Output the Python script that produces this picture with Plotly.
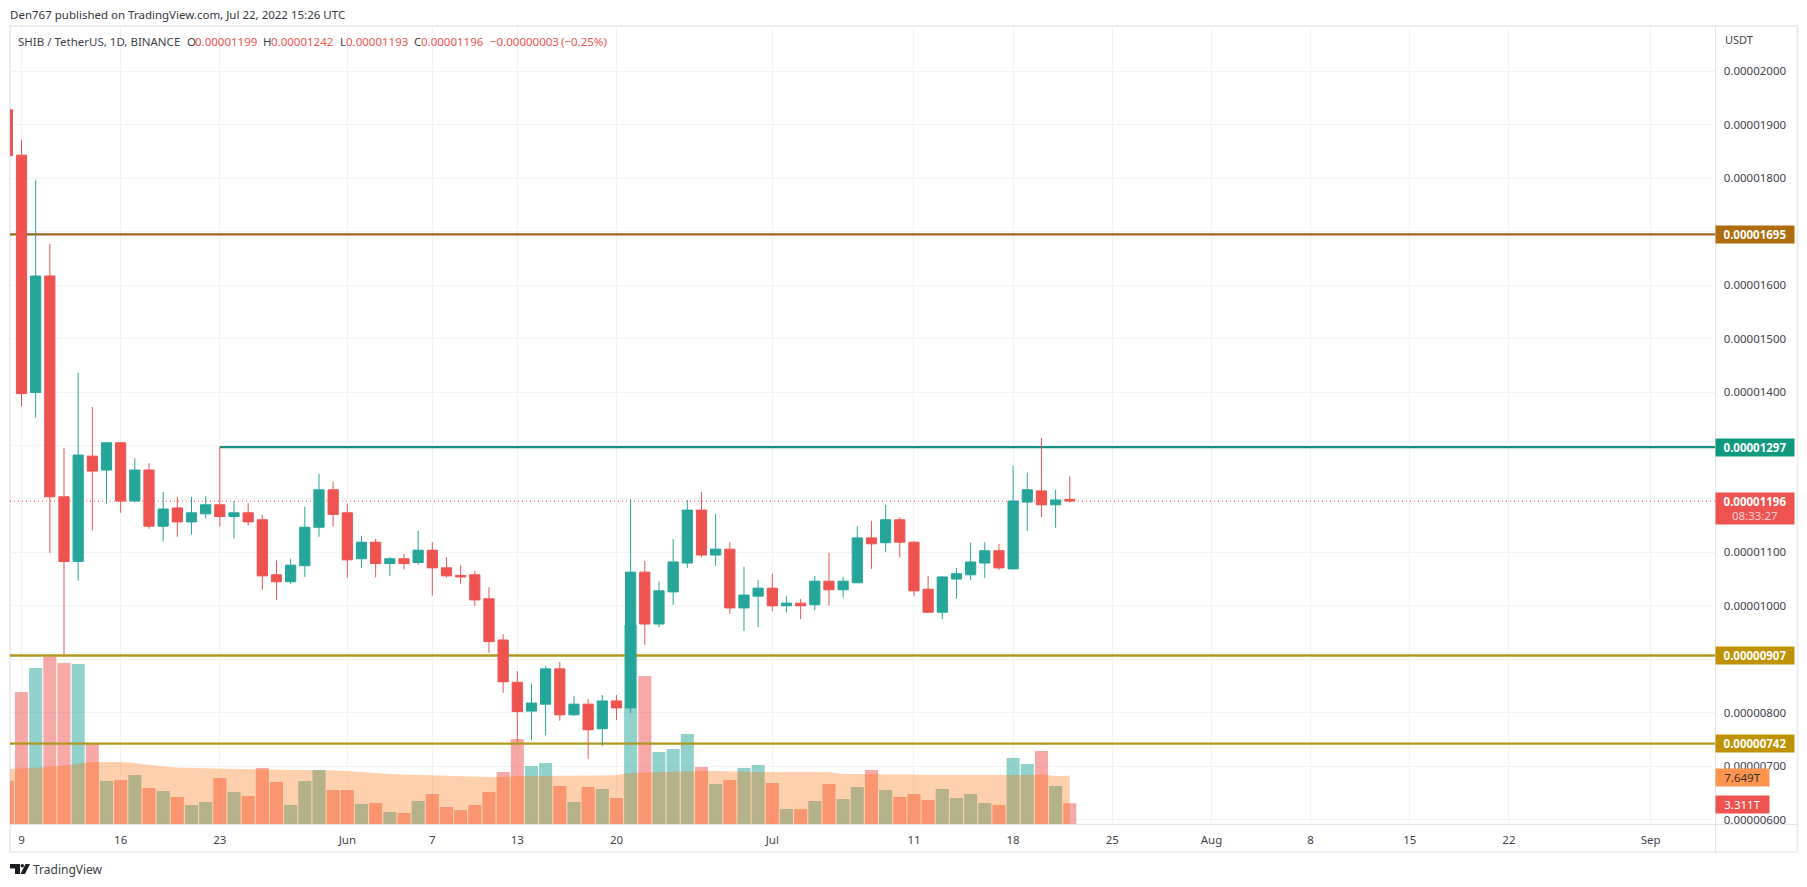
import pandas as pd
import plotly.graph_objects as go

W, H = 1807, 887
FONT = "Noto Sans"

# ---------- data (prices in units of 0.00000001, volume in trillions) ----------
dates = pd.date_range("2022-05-08", "2022-07-22", freq="D")

open_e8 = [1928, 1843, 1399, 1617, 1204, 1083, 1280, 1254, 1305, 1196, 1254, 1149, 1183, 1157, 1172, 1189, 1167, 1174, 1161, 1058, 1045, 1075, 1147, 1217,
           1174, 1088, 1119, 1079, 1088, 1081, 1104, 1071, 1057, 1058, 1013, 936, 857, 803, 816, 882, 796, 816, 770, 822, 809, 1063, 966, 1026, 1080, 1179, 1095, 1106, 996, 1018,
           1033, 1000, 1005, 1002, 1046, 1030, 1043, 1127, 1118, 1161, 1119, 1031, 988, 1050, 1058, 1080, 1103, 1069, 1194, 1215, 1189, 1199]
high_e8 = [1928, 1872, 1797, 1677, 1295, 1436, 1372, 1305, 1305, 1276, 1267, 1213, 1204, 1204, 1205, 1298, 1196, 1192, 1170, 1085, 1088, 1185, 1247, 1232,
           1191, 1131, 1125, 1091, 1097, 1140, 1119, 1091, 1076, 1065, 1035, 947, 878, 854, 887, 895, 831, 826, 833, 833, 1200, 1084, 1045, 1125, 1198, 1213, 1172, 1119, 1073, 1048,
           1060, 1018, 1013, 1056, 1099, 1054, 1149, 1159, 1189, 1166, 1121, 1056, 1056, 1071, 1118, 1119, 1116, 1262, 1249, 1314, 1217, 1242]
low_e8 = [1842, 1373, 1352, 1099, 908, 1047, 1141, 1191, 1174, 1194, 1144, 1120, 1129, 1133, 1163, 1148, 1126, 1150, 1030, 1011, 1041, 1054, 1129, 1148,
          1053, 1071, 1053, 1056, 1068, 1077, 1019, 1053, 1041, 1000, 912, 837, 745, 749, 758, 785, 794, 713, 738, 786, 799, 927, 960, 1002, 1071, 1091, 1075, 985, 953, 960,
          990, 987, 975, 992, 1000, 1015, 1043, 1069, 1101, 1091, 1018, 987, 975, 1013, 1048, 1052, 1067, 1069, 1140, 1166, 1146, 1193]
close_e8 = [1842, 1397, 1617, 1204, 1083, 1282, 1252, 1305, 1196, 1254, 1149, 1181, 1157, 1174, 1189, 1167, 1174, 1157, 1056, 1045, 1076, 1147, 1217, 1171,
            1086, 1119, 1079, 1088, 1079, 1104, 1071, 1056, 1054, 1011, 933, 858, 802, 818, 882, 796, 816, 768, 822, 809, 1063, 966, 1028, 1082, 1179, 1095, 1106, 996, 1020, 1033,
            1000, 1005, 1000, 1046, 1030, 1046, 1127, 1116, 1161, 1119, 1028, 988, 1054, 1060, 1082, 1103, 1071, 1196, 1217, 1189, 1198, 1196]

volume_t = [6.88, 20.87, 24.65, 26.47, 25.44, 25.28, 12.67, 6.83, 6.99, 7.78, 5.73, 5.25, 4.31, 3.04, 3.52, 7.30, 5.09, 4.46, 8.88, 6.67, 3.04, 6.83, 8.56, 5.41,
            5.41, 3.20, 3.36, 1.94, 1.78, 3.68, 4.78, 2.73, 2.26, 3.04, 5.09, 8.25, 13.45, 9.20, 9.67, 6.04, 3.52, 5.88, 5.57, 4.15, 31.44, 23.39, 11.40, 11.88, 14.24, 9.04, 6.36, 6.99, 8.88, 9.35,
            6.51, 2.41, 2.41, 3.68, 6.36, 3.99, 5.88, 8.56, 5.41, 4.31, 4.78, 3.83, 5.57, 4.15, 4.78, 3.36, 3.04, 10.46, 9.51, 11.56, 6.04, 3.311]
volume_ma_t = [8.72, 8.80, 8.88, 9.04, 9.27, 9.51, 9.83, 9.83, 9.83, 9.67, 9.35, 9.12, 8.96, 8.88, 8.80, 8.72, 8.72, 8.72, 8.64, 8.56, 8.56, 8.56, 8.56, 8.49,
               8.41, 8.25, 8.01, 7.93, 7.85, 7.78, 7.70, 7.62, 7.54, 7.46, 7.46, 7.46, 7.62, 7.62, 7.62, 7.62, 7.62, 7.62, 7.70, 7.78, 8.09, 8.17, 8.25, 8.25, 8.33, 8.41, 8.41, 8.33, 8.33, 8.25,
               8.25, 8.25, 8.25, 8.25, 8.25, 7.93, 7.93, 7.93, 7.93, 7.93, 7.85, 7.78, 7.78, 7.78, 7.78, 7.70, 7.70, 7.78, 7.78, 7.85, 7.62, 7.649]

level_1695 = 0.00001695
level_1297 = 0.00001297
level_907 = 0.00000907
level_742 = 0.00000742
last_price = 0.00001196
level_1297_start = "2022-05-23"

price_ticks = [i * 1e-8 for i in range(600, 2001, 100)]
date_ticks = ["2022-05-09", "2022-05-16", "2022-05-23", "2022-06-01", "2022-06-07", "2022-06-13", "2022-06-20", "2022-07-01",
              "2022-07-11", "2022-07-18", "2022-07-25", "2022-08-01", "2022-08-08", "2022-08-15", "2022-08-22", "2022-09-01"]
date_tick_text = ["9", "16", "23", "Jun", "7", "13", "20", "Jul", "11", "18", "25", "Aug", "8", "15", "22", "Sep"]

# ---------- colours ----------
RED, GREEN = "#EF5350", "#26A69A"
RED_A, GREEN_A = "rgba(239,83,80,0.5)", "rgba(38,166,154,0.5)"
TEXT = "#3F424C"
GRID = "#F2F3F6"
FRAME = "#EDEEF0"
SEP = "#E2E4EA"

# ---------- geometry helpers ----------
def px(x):
    return x / W

def py(y):
    return 1 - y / H

L, R, T, B = 10, 1715.5, 27, 824.3
PX_PER_DAY = 14.166
X0_PX = 21.5
t0 = pd.Timestamp("2022-05-09")
x_left = t0 + pd.Timedelta(days=(L - X0_PX) / PX_PER_DAY)
x_right = t0 + pd.Timedelta(days=(R - X0_PX) / PX_PER_DAY)
x_range = [x_left.isoformat(), x_right.isoformat()]
PRICE_PX = 53.45e6  # pixels per unit price
p_top = 0.00002 + (71.3 - T) / PRICE_PX
p_bot = 0.00002 + (71.3 - B) / PRICE_PX
price_range = [p_bot, p_top]
vol_range = [0, (B - T) / 6.34]

opens = [v * 1e-8 for v in open_e8]
highs = [v * 1e-8 for v in high_e8]
lows = [v * 1e-8 for v in low_e8]
closes = [v * 1e-8 for v in close_e8]
vol_colors = [GREEN_A if c >= o else RED_A for o, c in zip(open_e8, close_e8)]

fig = go.Figure()

# volume + average (base subplot)
fig.add_trace(go.Bar(x=dates, y=volume_t, marker=dict(color=vol_colors, line_width=0), yaxis="y", hoverinfo="skip"))
fig.add_trace(go.Scatter(x=dates, y=volume_ma_t, mode="lines", fill="tozeroy", line=dict(width=0, color="rgba(255,109,0,0)"),
                         fillcolor="rgba(255,109,0,0.32)", yaxis="y", hoverinfo="skip"))

# horizontal levels under the candles
def level(xs, value, color, width=2.3, dash=None):
    fig.add_trace(go.Scatter(x=xs, y=[value] * len(xs), mode="lines", yaxis="y2", hoverinfo="skip",
                             line=dict(color=color, width=width, dash=dash)))

full = x_range
level(full, level_1695, "#9A6320")
level([level_1297_start, x_range[1]], level_1297, "#12927C")
level(full, level_907, "#B0981E")
level(full, level_742, "#B0981E")
level(full, last_price, RED, 1, "1px,3px")

# candles
fig.add_trace(go.Candlestick(x=dates, open=opens, high=highs, low=lows, close=closes, yaxis="y3", whiskerwidth=0,
                             increasing=dict(line=dict(color=GREEN, width=1), fillcolor=GREEN),
                             decreasing=dict(line=dict(color=RED, width=1), fillcolor=RED), hoverinfo="skip"))

ann = []
def text(x, y, s, color=TEXT, size=11.5, anchor="left"):
    ann.append(dict(xref="paper", yref="paper", x=px(x), y=py(y), text=s, showarrow=False, xanchor=anchor, yanchor="middle",
                    font=dict(family=FONT, size=size, color=color), xshift=0, yshift=0, borderpad=0, borderwidth=0))

text(10, 15, "Den767 published on TradingView.com, Jul 22, 2022 15:26 UTC", "#333740", 11.5)
y_leg = 41.5
text(18, y_leg, "SHIB / TetherUS, 1D, BINANCE", TEXT, 11.5)
for xl, lab, xv, val in [(186.8, "O", 195, "0.00001199"), (263, "H", 271, "0.00001242"), (339.5, "L", 345.6, "0.00001193"), (413.7, "C", 421, "0.00001196")]:
    text(xl, y_leg, lab, TEXT, 11.5)
    text(xv, y_leg, val, RED, 11.5)
text(489.5, y_leg, "\u22120.00000003", RED, 11.5)
text(560.7, y_leg, "(\u22120.25%)", RED, 11.5)
text(1725, 39.5, "USDT", TEXT, 11)
text(33, 869, "TradingView", "#3A3D46", 12)

def tag(yref, value, s, bg, color="white", width=78, height=17, yshift=0):
    ann.append(dict(xref="paper", yref=yref, x=px(1715), y=value, text=s, showarrow=False, xanchor="left", yanchor="middle",
                    width=width, height=height, align="center", valign="middle", bgcolor=bg, yshift=yshift, borderpad=0,
                    font=dict(family=FONT, size=11.5, color=color)))

tag("y2", level_1695, "<b>0.00001695</b>", "#AF6C0C")
tag("y2", level_1297, "<b>0.00001297</b>", "#0F9A80")
tag("y2", level_907, "<b>0.00000907</b>", "#C09200")
tag("y2", level_742, "<b>0.00000742</b>", "#C09200")
tag("y2", last_price, "<b>0.00001196</b><br><span style='color:#FBD0CF'>08:33:27</span>", RED, height=31, yshift=-7.5)
tag("y", volume_ma_t[-1], "7.649T", "#FF944E", "#35302C", width=53, yshift=-2)
tag("y", volume_t[-1], "3.311T", RED, width=53, yshift=-1)

def rect(x0, y0, x1, y1, **kw):
    return dict(type="rect", xref="paper", yref="paper", x0=px(x0), y0=py(y0), x1=px(x1), y1=py(y1), **kw)

def hline(x0, x1, y, c, w=1):
    return dict(type="line", xref="paper", yref="paper", x0=px(x0), x1=px(x1), y0=py(y), y1=py(y), line=dict(color=c, width=w))

def vline(x, y0, y1, c, w=1):
    return dict(type="line", xref="paper", yref="paper", x0=px(x), x1=px(x), y0=py(y0), y1=py(y1), line=dict(color=c, width=w))

def path(points):
    return "M " + " L ".join(f"{px(a)},{py(b)}" for a, b in points) + " Z"

shapes = [
    rect(10, 26, 1797.5, 852, line=dict(color=FRAME, width=2), fillcolor="rgba(0,0,0,0)", layer="below"),
    vline(R, T, 852, SEP),
    hline(L, 1797, B + 0.2, SEP),
    # TradingView logo
    dict(type="path", xref="paper", yref="paper", path=path([(10, 864), (20, 864), (20, 874), (15, 874), (15, 868.5), (10, 868.5)]),
         fillcolor="#1B1D24", line_width=0),
    dict(type="circle", xref="paper", yref="paper", x0=px(20.5), x1=px(24), y0=py(864), y1=py(867.5), fillcolor="#1B1D24", line_width=0),
    dict(type="path", xref="paper", yref="paper", path=path([(25.5, 864), (30, 864), (25, 874), (20.5, 874)]), fillcolor="#1B1D24", line_width=0),
]

fig.update_layout(
    width=W, height=H, autosize=False, margin=dict(l=0, r=0, t=0, b=0, autoexpand=False),
    paper_bgcolor="white", plot_bgcolor="white", showlegend=False, bargap=0.08, boxgap=0.28, boxgroupgap=0, dragmode=False,
    font=dict(family=FONT, color=TEXT),
    xaxis=dict(type="date", domain=[px(L), px(R)], range=x_range, anchor="y", rangeslider=dict(visible=False),
               tickmode="array", tickvals=date_ticks, ticktext=date_tick_text, showgrid=True, gridcolor=GRID, gridwidth=1,
               ticks="outside", ticklen=5, tickcolor="rgba(0,0,0,0)", tickfont=dict(family=FONT, size=11.5, color=TEXT),
               showline=False, zeroline=False),
    yaxis=dict(domain=[py(B), py(T)], range=vol_range, visible=False, showgrid=False, zeroline=False, fixedrange=True),
    yaxis2=dict(overlaying="y", side="right", anchor="x", range=price_range, tickmode="array", tickvals=price_ticks,
                tickformat=".8f", showgrid=True, gridcolor=GRID, gridwidth=1, zeroline=False, showline=False,
                ticks="outside", ticklen=5, tickcolor="rgba(0,0,0,0)", tickfont=dict(family=FONT, size=11.5, color=TEXT)),
    yaxis3=dict(overlaying="y", side="right", anchor="x", range=price_range, visible=False, showgrid=False, zeroline=False),
    annotations=ann, shapes=shapes,
)

fig.write_html("out.html", config=dict(displayModeBar=False), post_script="document.body.style.margin='0';document.body.style.overflow='hidden';")
